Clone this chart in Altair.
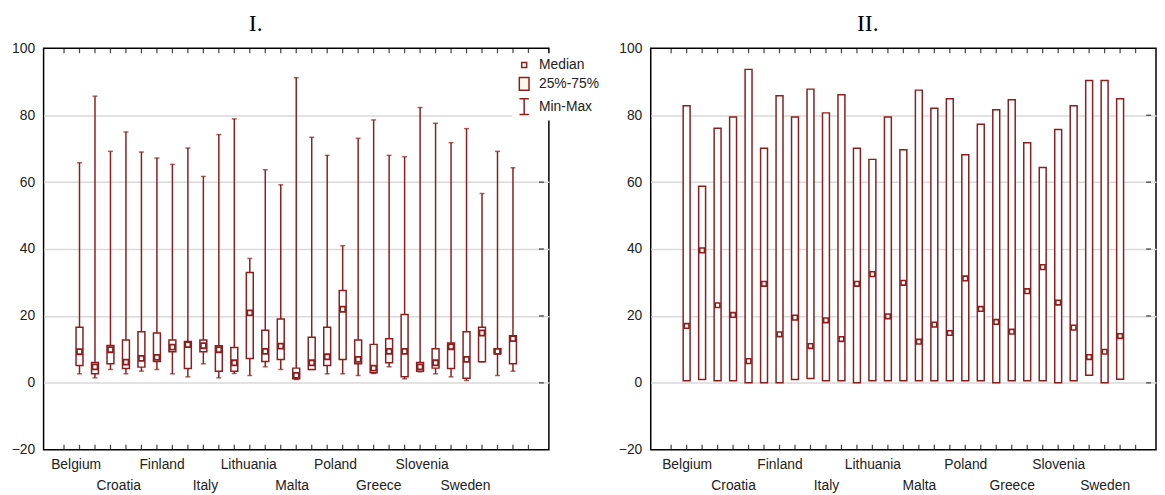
import altair as alt
import pandas as pd

RED = "#8b1e1e"
FONT = "Liberation Sans"

# ---------------- data: panel I (box plots) ----------------
pos1 = list(range(1, 30))
min1 = [2.7, 1.5, 4.0, 2.7, 3.5, 4.0, 2.7, 1.8, 5.7, 1.5, 2.8, 2.2, 4.8, 4.0, 1.0,
        4.0, 2.7, 2.7, 2.2, 2.8, 4.8, 1.2, 3.3, 2.7, 1.8, 0.7, 6.3, 2.2, 3.5]
q1_1 = [5.2, 2.7, 5.7, 4.3, 4.7, 6.4, 9.3, 4.3, 9.3, 3.5, 3.5, 7.3, 6.4, 7.0, 1.2,
        4.0, 5.2, 7.0, 5.7, 3.0, 6.0, 1.8, 3.5, 4.4, 4.3, 1.4, 6.3, 8.7, 5.7]
med1 = [9.3, 4.8, 9.9, 6.2, 7.3, 7.6, 10.7, 11.4, 11.1, 9.9, 6.0, 20.9, 9.4, 11.0, 2.2,
        6.0, 7.8, 22.0, 7.0, 4.4, 9.4, 9.4, 4.8, 6.0, 10.8, 7.0, 14.9, 9.4, 13.2]
q3_1 = [16.6, 6.1, 11.2, 12.8, 15.3, 14.9, 12.8, 12.4, 12.8, 11.1, 10.6, 33.0, 15.7, 19.1, 4.4,
        13.6, 16.6, 27.6, 12.8, 11.5, 13.2, 20.4, 6.1, 10.2, 11.9, 15.3, 16.6, 10.2, 14.1]
max1 = [65.8, 85.7, 69.2, 75.0, 69.0, 67.2, 65.3, 70.2, 61.7, 74.2, 78.9, 37.2, 63.7, 59.2, 91.2,
        73.4, 68.0, 41.0, 73.1, 78.6, 68.0, 67.6, 82.3, 77.6, 71.8, 76.0, 56.6, 69.2, 64.3]

# ---------------- data: panel II ----------------
pos2 = list(range(1, 30))
lo2 = [0.6, 1.0, 0.6, 0.6, 0.0, 0.0, 0.0, 1.0, 1.3, 0.6, 0.6, 0.0, 0.6, 0.6, 0.6,
       0.6, 0.6, 0.6, 0.6, 0.6, 0.0, 0.6, 0.6, 0.6, 0.0, 0.6, 2.3, 0.0, 1.1]
hi2 = [82.8, 58.8, 76.1, 79.5, 93.7, 70.1, 85.8, 79.5, 87.8, 80.7, 86.1, 70.1, 66.8, 79.5, 69.7,
       87.5, 82.1, 84.9, 68.2, 77.3, 81.6, 84.6, 71.8, 64.4, 75.7, 82.8, 90.4, 90.4, 84.9]
med2 = [17.0, 39.6, 23.2, 20.3, 6.5, 29.6, 14.5, 19.5, 11.0, 18.7, 13.1, 29.6, 32.5, 19.9, 29.9,
        12.3, 17.4, 14.9, 31.2, 22.1, 18.2, 15.3, 27.4, 34.6, 24.0, 16.5, 7.7, 9.3, 14.0]

# ---------------- tick labels ----------------
label_names = ["Belgium", "Croatia", "Finland", "Italy", "Lithuania",
               "Malta", "Poland", "Greece", "Slovenia", "Sweden"]
label_pos1 = [0.75, 3.5, 6.3, 9.1, 11.9, 14.7, 17.5, 20.3, 23.1, 25.9]
label_pos2 = [1, 4, 7, 10, 13, 16, 19, 22, 25, 28]
tick_vals = list(range(0, 31))
y_labels = [-20, 0, 20, 40, 60, 80, 100]
y_grid = [0, 20, 40, 60, 80]
x_min, x_max = -1, 31
y_min, y_max = -20, 100

legend_names = ["Median", "25%-75%", "Min-Max"]
legend_paths = ["M-0.32,-0.32H0.32V0.32H-0.32Z",
                "M-0.62,-0.82H0.62V0.82H-0.62Z",
                "M-0.6,-1H0.6M0,-1V1M-0.6,1H0.6"]
legend_fills = ["white", "#fff8ec", "transparent"]

W, H = 511, 406


def label_expr(positions, names):
    items = []
    for i, n in enumerate(names):
        items.append(f"'{n}'" if i % 2 == 0 else f"['', '{n}']")
    return ("[" + ",".join(items) + "][indexof([" +
            ",".join(str(p) for p in positions) + "], datum.value)]")


xs = alt.Scale(domain=[x_min, x_max], nice=False, zero=False)
ys = alt.Scale(domain=[y_min, y_max], nice=False, zero=False)


def x_label_axis(positions):
    return alt.Axis(orient="bottom", values=positions, labelExpr=label_expr(positions, label_names),
                    ticks=False, domain=False, grid=False, labelFontSize=14, labelFont=FONT,
                    labelColor="#222", labelPadding=8, labelLineHeight=21, labelOverlap=False,
                    labelFlush=False, labelBound=False, title=None)


y_label_axis = alt.Axis(orient="left", values=y_labels, ticks=False, domain=False, grid=False,
                        labelFontSize=14, labelFont=FONT, labelColor="#222", labelPadding=9, title=None)
y_grid_axis = alt.Axis(orient="left", values=y_grid, labels=False, ticks=False, domain=False,
                       grid=True, gridColor="#d9d9d9", gridWidth=1.5, title=None)

tick_df = pd.DataFrame({"t": tick_vals})
grid_df = pd.DataFrame({"g": y_grid})


def frame_ticks():
    top = alt.Chart(tick_df).mark_tick(orient="vertical", size=5, thickness=1.3, color="black",
                                       yOffset=2.5).encode(
        x=alt.X("t:Q", scale=xs, axis=None),
        y=alt.YDatum(y_max, scale=ys, axis=None))
    bot = alt.Chart(tick_df).mark_tick(orient="vertical", size=5, thickness=1.3, color="black",
                                       yOffset=-2.5).encode(
        x=alt.X("t:Q", scale=xs, axis=None),
        y=alt.YDatum(y_min, scale=ys, axis=None))
    right = alt.Chart(grid_df).mark_tick(orient="horizontal", size=5, thickness=1.3, color="black",
                                         xOffset=-2.5).encode(
        x=alt.XDatum(x_max, scale=xs, axis=None),
        y=alt.Y("g:Q", scale=ys, axis=None))
    return [top, bot, right]


# ---------------- panel I ----------------
df1 = pd.DataFrame({"pos": pos1, "min": min1, "q1": q1_1, "med": med1, "q3": q3_1, "max": max1})
base1 = alt.Chart(df1)

whisk = base1.mark_rule(color=RED, strokeWidth=1.5).encode(
    x=alt.X("pos:Q", scale=xs, axis=x_label_axis(label_pos1)),
    y=alt.Y("min:Q", scale=ys, axis=y_label_axis),
    y2="max:Q")
cap_top = base1.mark_tick(color=RED, orient="horizontal", size=5, thickness=1.5).encode(
    x=alt.X("pos:Q", scale=xs, axis=None),
    y=alt.Y("max:Q", scale=ys, axis=y_grid_axis))
cap_bot = base1.mark_tick(color=RED, orient="horizontal", size=5, thickness=1.5).encode(
    x=alt.X("pos:Q", scale=xs, axis=None),
    y=alt.Y("min:Q", scale=ys, axis=None))
box1 = base1.mark_bar(size=7, fill="white", stroke=RED, strokeWidth=1.5, orient="vertical").encode(
    x=alt.X("pos:Q", scale=xs, axis=None),
    y=alt.Y("q1:Q", scale=ys, axis=None),
    y2="q3:Q")
medp1 = base1.mark_point(shape="square", size=26, filled=True, fill="white", stroke=RED,
                         strokeWidth=1.8, opacity=1).encode(
    x=alt.X("pos:Q", scale=xs, axis=None),
    y=alt.Y("med:Q", scale=ys, axis=None))

leg_df = pd.DataFrame({"item": legend_names})
leg = alt.Chart(leg_df).mark_point(filled=True, opacity=0).encode(
    shape=alt.Shape("item:N", scale=alt.Scale(domain=legend_names, range=legend_paths),
                    legend=alt.Legend(title=None, orient="none", legendX=474, legendY=5,
                                      symbolSize=250, symbolStrokeColor=RED, symbolStrokeWidth=1.5,
                                      symbolOpacity=1, labelFontSize=14, labelFont=FONT,
                                      labelColor="#222", labelOffset=6, rowPadding=2,
                                      fillColor="white", padding=3)),
    fill=alt.Fill("item:N", scale=alt.Scale(domain=legend_names, range=legend_fills)),
    stroke=alt.Stroke("item:N", scale=alt.Scale(domain=legend_names, range=[RED, RED, RED])),
)

p1 = alt.layer(whisk, cap_top, cap_bot, box1, medp1, *frame_ticks(), leg).resolve_axis(
    x="independent", y="independent").properties(
    width=W, height=H,
    title=alt.TitleParams("I.", font="Liberation Serif", fontSize=24, fontWeight="normal",
                          color="black", anchor="middle", dx=-41, offset=6))

# ---------------- panel II ----------------
df2 = pd.DataFrame({"pos": pos2, "lo": lo2, "med": med2, "hi": hi2})
base2 = alt.Chart(df2)
box2 = base2.mark_bar(size=7, fill="white", stroke=RED, strokeWidth=1.5, orient="vertical").encode(
    x=alt.X("pos:Q", scale=xs, axis=x_label_axis(label_pos2)),
    y=alt.Y("lo:Q", scale=ys, axis=y_label_axis),
    y2="hi:Q")
medp2 = base2.mark_point(shape="square", size=22, filled=True, fill="white", stroke=RED,
                         strokeWidth=1.6, opacity=1).encode(
    x=alt.X("pos:Q", scale=xs, axis=None),
    y=alt.Y("med:Q", scale=ys, axis=y_grid_axis))

p2 = alt.layer(box2, medp2, *frame_ticks()).resolve_axis(x="independent", y="independent").properties(
    width=W, height=H,
    title=alt.TitleParams("II.", font="Liberation Serif", fontSize=24, fontWeight="normal",
                          color="black", anchor="middle", dx=-36, offset=6))

chart = alt.hconcat(p1, p2, spacing=103, bounds="flush").configure_view(
    stroke="black", strokeWidth=1.5).properties(
    padding={"left": 2, "top": 0, "right": 0, "bottom": 0})

chart.save("out.html", embed_options={"renderer": "svg", "actions": False})
